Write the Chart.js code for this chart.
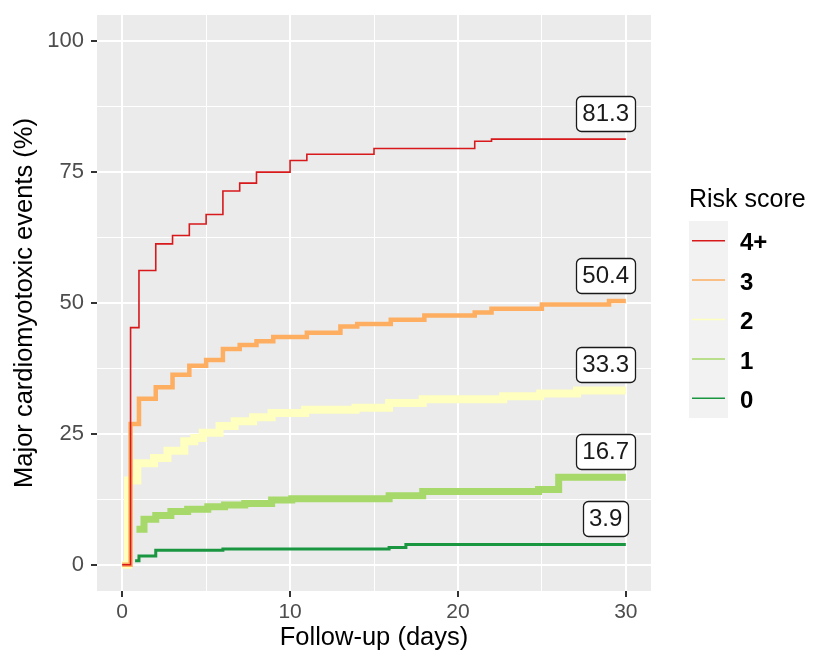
<!DOCTYPE html>
<html>
<head>
<meta charset="utf-8">
<title>Major cardiomyotoxic events by risk score</title>
<script src="https://cdn.jsdelivr.net/npm/chart.js@4.4.1/dist/chart.umd.min.js"></script>
<style>
  html, body { margin: 0; padding: 0; background: #ffffff; }
  #chart { display: block; }
</style>
</head>
<body>
<canvas id="chart" width="813" height="652"></canvas>
<script>
// Cumulative incidence curves, one per risk score group
const riskGroups = ['4+', '3', '2', '1', '0'];

const days4 = [0, 0.5, 1, 2, 3, 4, 5, 6, 7, 8, 10, 11, 15, 21, 22, 30];
const pct4 = [0, 45.3, 56.2, 61.3, 62.9, 65.1, 66.9, 71.4, 72.9, 75.0, 77.2, 78.4, 79.5, 80.9, 81.3, 81.3];

const days3 = [0, 0.5, 1, 2, 3, 4, 5, 6, 7, 8, 9, 11, 13, 14, 16, 18, 21, 22, 25, 29, 30];
const pct3 = [0, 26.9, 31.7, 33.9, 36.3, 38.0, 39.1, 41.2, 42.0, 42.7, 43.5, 44.3, 45.5, 46.0, 46.8, 47.6, 48.2, 48.9, 49.7, 50.4, 50.4];

const days2 = [0, 0.35, 0.9, 1.9, 2.7, 3.7, 4.3, 4.8, 5.8, 6.7, 7.8, 8.9, 10.9, 13.9, 15.9, 17.9, 22.7, 24.9, 27.1, 30];
const pct2 = [0, 16.1, 19.4, 20.4, 21.8, 23.6, 24.2, 25.2, 26.5, 27.4, 28.2, 29.0, 29.6, 30.0, 30.9, 31.6, 32.2, 32.7, 33.3, 33.3];

const days1 = [0.85, 1.3, 2.0, 2.9, 3.9, 5.1, 6.1, 7.3, 8.9, 10.1, 15.9, 17.9, 24.8, 26.0, 30];
const pct1 = [6.8, 8.7, 9.4, 10.2, 10.6, 11.1, 11.4, 11.7, 12.4, 12.6, 13.2, 14.0, 14.4, 16.7, 16.7];

const days0 = [0.77, 1.0, 2.0, 6, 15.9, 16.9, 30];
const pct0 = [0.8, 1.7, 2.8, 3.0, 3.3, 3.9, 3.9];

const xTicks = [0, 10, 20, 30];
const yTicks = [0, 25, 50, 75, 100];

// styling
const fontFamily = "'Liberation Sans', Arial, sans-serif";
const lineColors = ['#d7191c', '#fdae61', '#ffffbf', '#a6d96a', '#1a9641'];
const lineWidths = [1.6, 4.5, 8, 7, 3];

const seriesDays = [days4, days3, days2, days1, days0];
const seriesPct = [pct4, pct3, pct2, pct1, pct0];

// major ticks plus the minor ones halfway between them
function withMinor(major) {
    const all = [];
    major.forEach(function(v, i) {
        all.push(v);
        if (i < major.length - 1) all.push((v + major[i + 1]) / 2);
    });
    return all;
}

function gridOptions(major) {
    return {
        color: '#ffffff',
        lineWidth: c => (c.tick && major.includes(c.tick.value)) ? 2 : 1,
        tickColor: c => (c.tick && major.includes(c.tick.value)) ? '#333333' : 'rgba(0,0,0,0)',
        tickWidth: 2,
        tickLength: 6
    };
}

// grey panel behind the grid
const panelBackground = {
    id: 'panelBackground',
    beforeDraw(chart) {
        const { ctx, chartArea: a } = chart;
        ctx.save();
        ctx.fillStyle = '#ebebeb';
        ctx.fillRect(a.left, a.top, a.right - a.left, a.bottom - a.top);
        ctx.restore();
    }
};

function roundedBox(ctx, x, y, w, h, r) {
    ctx.beginPath();
    ctx.moveTo(x + r, y);
    ctx.lineTo(x + w - r, y);
    ctx.arcTo(x + w, y, x + w, y + r, r);
    ctx.lineTo(x + w, y + h - r);
    ctx.arcTo(x + w, y + h, x + w - r, y + h, r);
    ctx.lineTo(x + r, y + h);
    ctx.arcTo(x, y + h, x, y + h - r, r);
    ctx.lineTo(x, y + r);
    ctx.arcTo(x, y, x + r, y, r);
    ctx.closePath();
}

// boxed value above the end of each curve
const endLabels = {
    id: 'endLabels',
    afterDatasetsDraw(chart) {
        const { ctx, scales: { x, y } } = chart;
        ctx.save();
        ctx.font = '24px ' + fontFamily;
        ctx.textAlign = 'center';
        ctx.textBaseline = 'middle';
        chart.data.datasets.forEach(function(ds) {
            const last = ds.data[ds.data.length - 1];
            const text = last.y.toFixed(1);
            const cx = x.getPixelForValue(last.x - 1.2);
            const cy = y.getPixelForValue(last.y + 4.9);
            const w = ctx.measureText(text).width + 12;
            const h = 35;
            roundedBox(ctx, Math.round(cx - w / 2) + 0.5, Math.round(cy - h / 2) + 0.5, Math.round(w), h, 5);
            ctx.fillStyle = '#ffffff';
            ctx.fill();
            ctx.lineWidth = 1.3;
            ctx.strokeStyle = '#1a1a1a';
            ctx.stroke();
            ctx.fillStyle = '#1a1a1a';
            ctx.fillText(text, cx, cy + 1);
        });
        ctx.restore();
    }
};

// legend on the right, ggplot style
const riskLegend = {
    id: 'riskLegend',
    afterDraw(chart) {
        const ctx = chart.ctx;
        const left = chart.chartArea.right + 38;
        const keyTop = 221;
        const keyH = 39.4;
        ctx.save();
        ctx.fillStyle = '#000000';
        ctx.font = '25px ' + fontFamily;
        ctx.textBaseline = 'middle';
        ctx.fillText('Risk score', left, 200);

        ctx.fillStyle = '#f2f2f2';
        ctx.fillRect(left, keyTop, 39, keyH * riskGroups.length);

        riskGroups.forEach(function(g, i) {
            const cy = keyTop + keyH * (i + 0.5);
            ctx.strokeStyle = lineColors[i];
            ctx.lineWidth = 1.5;
            ctx.beginPath();
            ctx.moveTo(left + 3, cy);
            ctx.lineTo(left + 36, cy);
            ctx.stroke();
            ctx.fillStyle = '#000000';
            ctx.font = 'bold 24px ' + fontFamily;
            ctx.fillText(g, left + 51, cy + 3);
        });
        ctx.restore();
    }
};

document.addEventListener('DOMContentLoaded', function() {
    const datasets = riskGroups.map(function(g, i) {
        return {
            label: g,
            data: seriesDays[i].map((d, j) => ({ x: d, y: seriesPct[i][j] })),
            borderColor: lineColors[i],
            borderWidth: lineWidths[i],
            stepped: true,
            pointRadius: 0,
            fill: false
        };
    });

    const ctx = document.getElementById('chart').getContext('2d');
    new Chart(ctx, {
        type: 'line',
        data: { datasets: datasets },
        options: {
            responsive: false,
            animation: false,
            layout: { padding: { top: 15, right: 162, left: 0, bottom: 0 } },
            plugins: {
                legend: { display: false },
                tooltip: { enabled: false }
            },
            scales: {
                x: {
                    type: 'linear',
                    min: -1.5,
                    max: 31.5,
                    afterBuildTicks: s => { s.ticks = withMinor(xTicks).map(v => ({ value: v })); },
                    afterFit: s => { s.height = 61; s.paddingLeft = 0; s.paddingRight = 0; },
                    border: { display: false },
                    grid: gridOptions(xTicks),
                    ticks: {
                        autoSkip: false,
                        maxRotation: 0,
                        padding: 3,
                        color: '#4d4d4d',
                        font: { family: fontFamily, size: 21 },
                        callback: v => xTicks.includes(v) ? String(v) : ''
                    },
                    title: {
                        display: true,
                        text: 'Follow-up (days)',
                        color: '#000000',
                        font: { family: fontFamily, size: 25.5 },
                        padding: { top: 0, bottom: -1 }
                    }
                },
                y: {
                    type: 'linear',
                    min: -5,
                    max: 105,
                    afterBuildTicks: s => { s.ticks = withMinor(yTicks).map(v => ({ value: v })); },
                    afterFit: s => { s.width = 97; s.paddingTop = 0; s.paddingBottom = 0; },
                    border: { display: false },
                    grid: gridOptions(yTicks),
                    ticks: {
                        autoSkip: false,
                        padding: 7,
                        color: '#4d4d4d',
                        font: { family: fontFamily, size: 22 },
                        callback: v => yTicks.includes(v) ? String(v) : ''
                    },
                    title: {
                        display: true,
                        text: 'Major cardiomyotoxic events (%)',
                        color: '#000000',
                        font: { family: fontFamily, size: 25.5 },
                        padding: { top: 10, bottom: 0 }
                    }
                }
            }
        },
        plugins: [panelBackground, endLabels, riskLegend]
    });
});
</script>
</body>
</html>
